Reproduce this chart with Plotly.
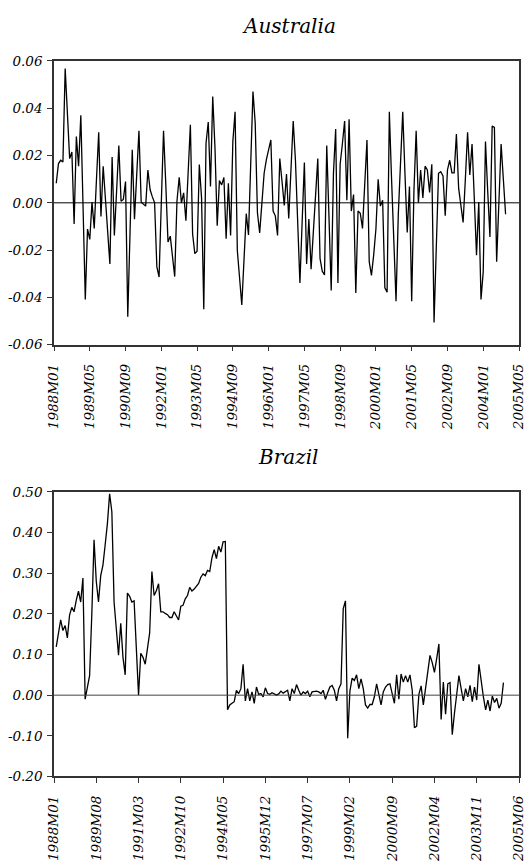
import plotly.graph_objects as go

# Australia monthly values (in percent units, /100 later), months 1988M02 onward
aus_pct = [0.83, 1.66, 1.80, 1.73, 5.68, 3.6, 1.87, 2.15, -0.90, 2.80,
           1.55, 3.70, -0.2, -4.09, -1.11, -1.55, 0.03, -1.08, 1.0, 2.98,
           -0.58, 1.55, 0.17, -1.21, -2.59, 1.94, -1.38, 0.5, 2.42, 0.07,
           0.14, 0.90, -4.82, -1.3, 2.24, -0.69, 1.2, 3.05, 0.03, -0.07,
           -0.14, 1.39, 0.55, 0.25, 0.0, -2.70, -3.14, 0.0, 3.05, 0.8,
           -1.66, -1.41, -2.3, -3.12, 0.07, 1.08, 0.0, 0.42, -0.76, 1.3,
           3.30, -1.32, -2.15, -2.05, 1.62, 0.21, -4.50, 2.52, 3.42, 0.69,
           4.50, 2.35, -0.97, 0.94, 0.76, 1.07, -1.52, 0.83, -1.38, 2.60,
           3.85, -2.01, -3.2, -4.32, -2.4, -0.46, -1.36, 1.7, 4.71, 3.39,
           -0.42, -1.27, 0.0, 1.25, 1.83, 2.2, 2.66, -0.35, -0.55, -1.38,
           1.87, 0.9, -0.11, 1.22, -0.66, 1.4, 3.46, 1.8, -0.8, -3.39,
           -0.8, 1.70, -2.59, -0.69, -2.81, -1.1, 0.55, 1.87, -2.35, -2.9,
           -3.05, 2.42, -0.6, -3.71, 1.25, 3.12, -3.39, 1.63, 2.5, 3.46,
           0.11, 3.53, -0.35, 0.35, -3.81, -0.35, -0.44, -1.08, 0.8, 2.66,
           -2.49, -3.07, -2.2, -1.11, 1.00, -0.14, 0.11, -3.60, -3.78, 3.85,
           1.0, -1.25, -4.16, -0.5, 1.7, 3.85, 1.2, -1.25, 0.69, -4.16,
           0.5, 3.05, 0.0, 1.39, 0.21, 1.55, 1.39, 0.44, 1.63, -5.06,
           -1.9, 1.25, 1.32, 1.14, -0.55, 1.39, 1.80, 1.27, 1.27, 2.91,
           0.62, -0.1, -0.83, 1.0, 2.98, 1.18, 2.49, 0.2, -2.22, 0.03,
           -4.09, -2.91, 2.59, 0.5, -1.45, 3.25, 3.19, -2.49, 0.0, 2.49,
           1.0, -0.48]

bra_pct = [11.9, 15.3, 18.5, 15.9, 17.1, 14.1, 19.7, 21.6, 20.5, 23.3,
           25.6, 22.9, 28.8, -1.0, 1.5, 4.8, 20.0, 38.2, 28.0, 22.9,
           29.4, 32.0, 37.0, 42.2, 49.5, 45.1, 22.9, 15.0, 9.8, 17.7,
           9.3, 5.0, 25.1, 24.3, 22.9, 23.2, 13.0, 0.0, 10.3, 9.3,
           7.6, 12.2, 15.3, 30.4, 24.5, 25.7, 27.4, 20.5, 20.5, 20.1,
           19.8, 19.1, 19.1, 20.5, 19.3, 18.5, 21.9, 22.1, 23.7, 24.5,
           26.5, 25.6, 26.1, 26.8, 27.5, 29.0, 29.8, 29.4, 30.7, 30.4,
           33.8, 35.8, 33.6, 36.6, 35.2, 37.7, 37.8, -3.6, -2.4, -2.0,
           -1.6, 1.2, 0.4, 1.6, 7.6, -1.4, 1.6, -1.4, 0.8, -2.0,
           2.0, 0.2, 0.4, -0.4, 1.8, 0.4, 0.2, 0.6, 0.4, 0.0,
           0.3, 1.0, 0.5, 0.8, 1.2, -1.4, 1.6, 0.4, 2.6, 1.2,
           0.0, 0.8, 0.4, 1.0, -0.4, 0.8, 0.9, 1.0, 0.8, 0.4,
           1.2, -1.0, 0.6, 2.0, 2.4, 1.2, -1.4, 1.6, 2.8, 21.3,
           23.2, -10.6, 1.0, 4.2, 3.6, 5.0, 1.6, 4.0, 1.6, -2.4,
           -3.2, -2.3, -2.3, -0.4, 2.8, 0.0, -2.4, 0.8, 2.0, 2.6,
           2.8, 0.4, -2.0, 5.0, -1.0, 5.2, 3.2, 4.8, 3.2, 5.0,
           1.2, -8.0, -7.6, 0.2, 2.3, -2.4, 1.6, 6.8, 9.8, 8.0,
           5.6, 9.0, 12.6, -6.0, 3.2, -4.7, 2.8, 3.1, -9.7, -4.4,
           -0.4, 4.8, 1.6, -1.4, 1.6, -0.4, 2.4, -1.6, 2.0, -1.2,
           7.6, 3.2, -0.4, -3.6, -1.2, -3.9, -0.2, -1.8, -0.8, -3.2,
           -2.0, 3.1]

aus_ticks = ["1988M01", "1989M05", "1990M09", "1992M01", "1993M05", "1994M09",
             "1996M01", "1997M05", "1998M09", "2000M01", "2001M05", "2002M09",
             "2004M01", "2005M05"]
bra_ticks = ["1988M01", "1989M08", "1991M03", "1992M10", "1994M05", "1995M12",
             "1997M07", "1999M02", "2000M09", "2002M04", "2003M11", "2005M06"]
aus_yticks = [-0.06, -0.04, -0.02, 0.0, 0.02, 0.04, 0.06]
bra_yticks = [-0.2, -0.1, 0.0, 0.1, 0.2, 0.3, 0.4, 0.5]

aus_y = [v / 100 for v in aus_pct]
bra_y = [v / 100 for v in bra_pct]
aus_x = list(range(1, len(aus_y) + 1))
bra_x = list(range(1, len(bra_y) + 1))

FONT = "DejaVu Serif"
H = 863.0


def it(s):
    return "<i>" + s + "</i>"


fig = go.Figure()
fig.add_trace(go.Scatter(x=aus_x, y=aus_y, mode="lines", xaxis="x", yaxis="y",
                         line=dict(color="black", width=1.3), showlegend=False,
                         hoverinfo="skip"))
fig.add_trace(go.Scatter(x=bra_x, y=bra_y, mode="lines", xaxis="x2", yaxis="y2",
                         line=dict(color="black", width=1.3), showlegend=False,
                         hoverinfo="skip"))

tickfont = dict(family=FONT, size=13.5, color="black")
axis_common = dict(showgrid=False, zeroline=False, showline=True, linecolor="#333",
                   linewidth=1.5, mirror=True, ticks="outside", ticklen=5,
                   tickcolor="#333", tickwidth=1.2, tickfont=tickfont,
                   ticklabeloverflow="allow")

fig.update_layout(
    width=526, height=863,
    margin=dict(l=54, r=5, t=0, b=0),
    paper_bgcolor="white", plot_bgcolor="white",
    xaxis=dict(domain=[0, 1], anchor="y", range=[0, 208],
               tickvals=[16 * i for i in range(len(aus_ticks))],
               ticktext=[it(t) for t in aus_ticks],
               tickangle=-90, ticklabelstandoff=7, **axis_common),
    yaxis=dict(domain=[(H - 343) / H, (H - 54) / H], anchor="x", range=[-0.06, 0.06],
               tickvals=aus_yticks, ticktext=[it(f"{v:.2f}") for v in aus_yticks],
               ticklabelstandoff=2, **axis_common),
    xaxis2=dict(domain=[0, 1], anchor="y2", range=[0, 209],
                tickvals=[19 * i for i in range(len(bra_ticks))],
                ticktext=[it(t) for t in bra_ticks],
                tickangle=-90, ticklabelstandoff=7, **axis_common),
    yaxis2=dict(domain=[(H - 783) / H, (H - 493) / H], anchor="x2", range=[-0.2, 0.5],
                tickvals=bra_yticks, ticktext=[it(f"{v:.2f}") for v in bra_yticks],
                ticklabelstandoff=2, **axis_common),
    shapes=[
        dict(type="line", xref="x domain", yref="y", x0=0, x1=1, y0=0, y1=0,
             line=dict(color="black", width=1)),
        dict(type="line", xref="x2 domain", yref="y2", x0=0, x1=1, y0=0, y1=0,
             line=dict(color="#444", width=1)),
    ],
    annotations=[
        dict(text="<i>Australia</i>", xref="paper", yref="paper", x=0.505, y=(H - 18) / H,
             showarrow=False, xanchor="center", yanchor="middle",
             font=dict(family=FONT, size=20, color="black")),
        dict(text="<i>Brazil</i>", xref="paper", yref="paper", x=0.505, y=(H - 457) / H,
             showarrow=False, xanchor="center", yanchor="middle",
             font=dict(family=FONT, size=20, color="black")),
    ],
)

fig.write_html("out.html")
